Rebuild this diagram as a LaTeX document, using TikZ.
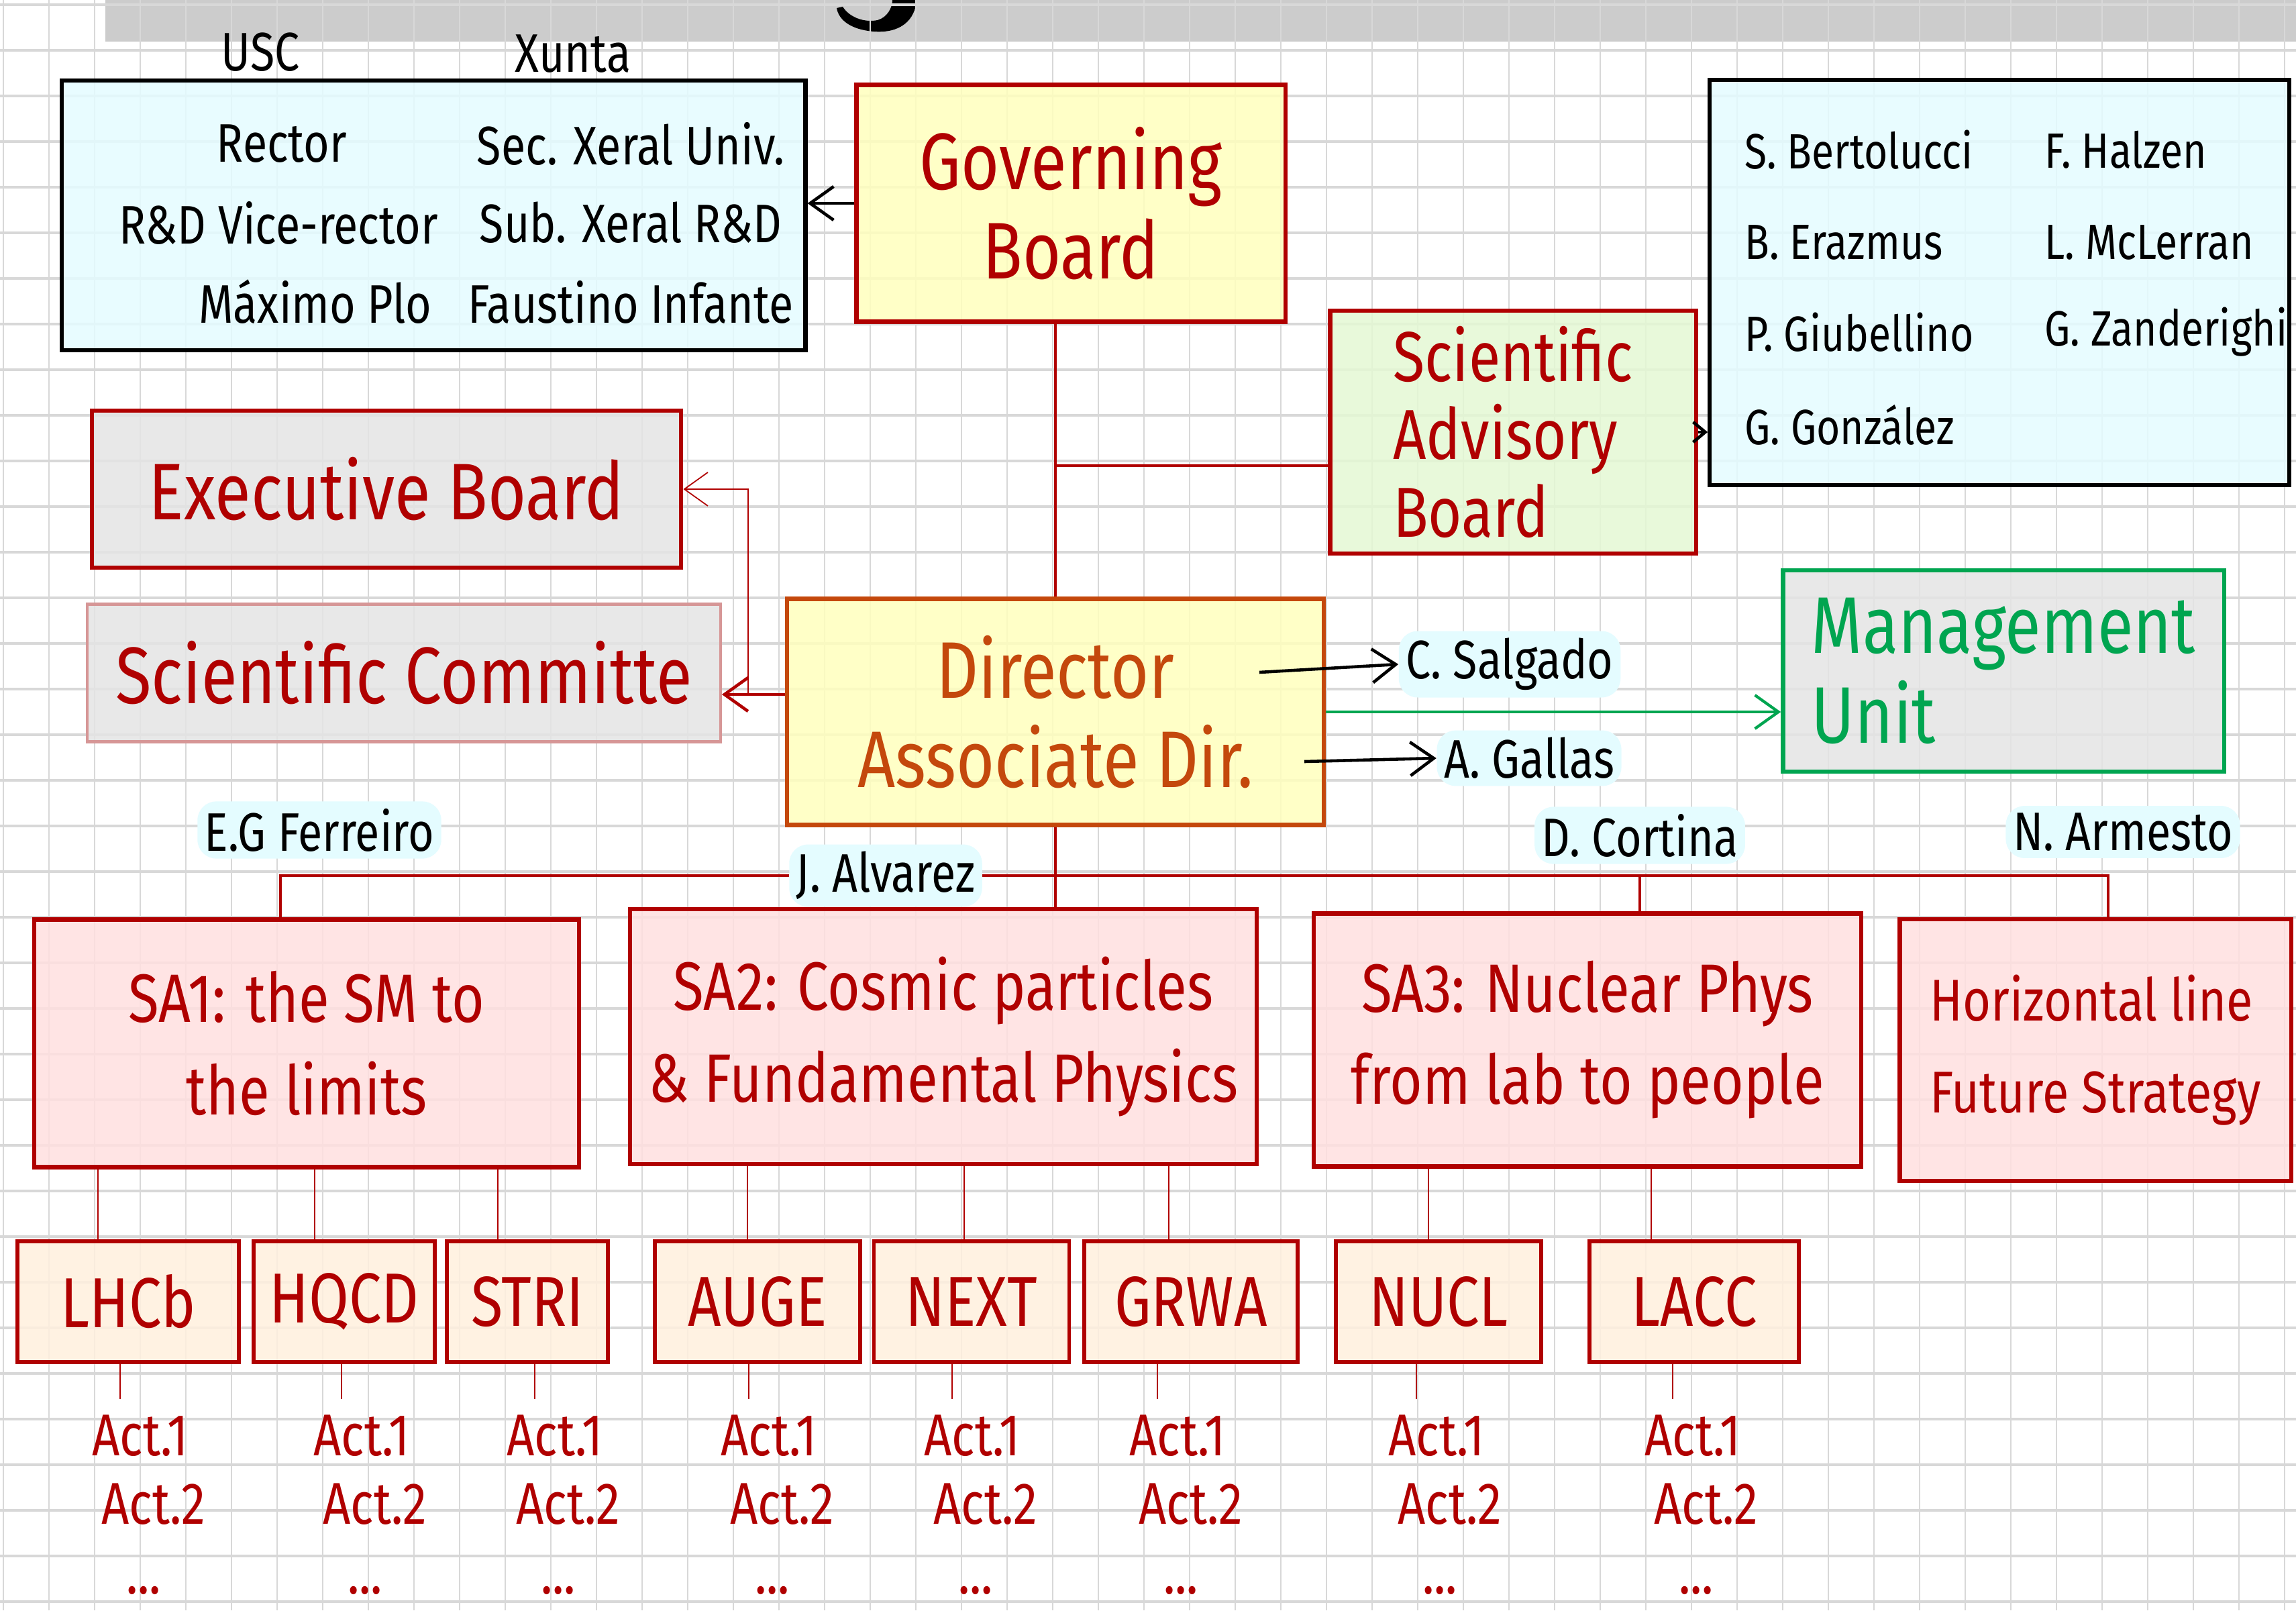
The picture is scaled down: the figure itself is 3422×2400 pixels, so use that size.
\documentclass[tikz,border=0pt]{standalone}
\usepackage{fontspec}
\setmainfont{Fira Sans}[FakeStretch=0.82]
\usetikzlibrary{arrows.meta,positioning}

\definecolor{penred}{RGB}{176,0,0}
\definecolor{penorange}{RGB}{196,72,12}
\definecolor{pengreen}{RGB}{0,165,80}
\definecolor{sclight}{RGB}{214,150,150}
\definecolor{hlcyan}{RGB}{228,252,255}
\definecolor{hlyellow}{RGB}{255,255,190}
\definecolor{hlgreen}{RGB}{228,248,212}
\definecolor{hlgrey}{RGB}{228,228,228}
\definecolor{hlpink}{RGB}{255,224,224}
\definecolor{hlpeach}{RGB}{255,240,222}
\definecolor{gridgrey}{RGB}{216,216,216}
\definecolor{bargrey}{RGB}{204,204,204}

\newcommand{\bigfont}{\fontsize{34}{38}\selectfont}
\newcommand{\sabfont}{\fontsize{30}{33}\selectfont}
\newcommand{\wpfont}{\fontsize{29}{39}\selectfont}
\newcommand{\hlfont}{\fontsize{25}{39}\selectfont}
\newcommand{\namefont}{\fontsize{23}{30}\selectfont}
\newcommand{\smallnamefont}{\fontsize{21}{28}\selectfont}
\newcommand{\grpfont}{\fontsize{30}{34}\selectfont}
\newcommand{\actfont}{\fontsize{25}{30}\selectfont}

\begin{document}
\begin{tikzpicture}[x=0.01cm, y=-0.01cm,
  gridh/.style={gridgrey, line width=1pt},
  gridv/.style={gridgrey, line width=0.5pt},
  redline/.style={penred, line width=1.3pt},
  redarrow/.style={penred, line width=1.3pt, -{Straight Barb[length=3.5mm,width=5mm]}},
  blackarrow/.style={black, line width=1.3pt, -{Straight Barb[length=3.5mm,width=5mm]}},
  greenarrow/.style={pengreen, line width=1.2pt, -{Straight Barb[length=3.5mm,width=5mm]}},
  peoplebox/.style={draw=black, line width=1.8pt, fill=hlcyan, fill opacity=0.85, inner sep=0},
  boardbox/.style={draw=penred, line width=1.8pt, text=penred, font=\bigfont, align=center,
    fill opacity=0.85, text opacity=1, inner sep=0},
  wpbox/.style={draw=penred, line width=1.8pt, text=penred, font=\wpfont, align=center,
    fill=hlpink, fill opacity=0.85, text opacity=1, inner sep=0},
  grpbox/.style={draw=penred, line width=1.6pt, text=penred, font=\grpfont, fill=hlpeach,
    fill opacity=0.85, text opacity=1, minimum height=1.8cm, inner sep=0},
  person/.style={font=\namefont},
  advisor/.style={font=\smallnamefont, anchor=west},
  namehl/.style={font=\namefont, fill=hlcyan, rounded corners=8pt, inner sep=3pt},
  acttext/.style={text=penred, font=\actfont, inner sep=1pt}]
\useasboundingbox (0,0) rectangle (3422,2400);
\clip (0,0) rectangle (3422,2400);
\fill[white] (0,0) rectangle (3422,2400);
\fill[bargrey] (157,0) rectangle (3422,62);
\fill[black] (1330,0) -- (1366,0) .. controls (1364,30) and (1342,50) .. (1302,47)
  .. controls (1268,44) and (1250,30) .. (1247,12) -- (1256,10)
  .. controls (1266,26) and (1288,34) .. (1308,30) .. controls (1322,26) and (1330,12) .. (1330,0) -- cycle;
\foreach \gx in {5,73,...,3422} \draw[gridv] (\gx,0) -- (\gx,2400);
\foreach \gy in {7,75,...,2400} \draw[gridh] (0,\gy) -- (3422,\gy);

\node[peoplebox, minimum width=11.08cm, minimum height=4.02cm] (unibox) at (646,321) {};
\node[person] (usc) at (388,78) {USC};
\node[person] (xunta) at (854,80) {Xunta};
\node[person] (rector) at (420,214) {Rector};
\node[person] (vicerector) at (415,332) {R\&D Vice-rector};
\node[person] (plo) at (470,450) {Máximo Plo};
\node[person] (secxeral) at (940,214) {Sec. Xeral Univ.};
\node[person] (subxeral) at (940,332) {Sub. Xeral R\&D};
\node[person] (infante) at (940,450) {Faustino Infante};

\node[boardbox, fill=hlyellow, minimum width=6.39cm, minimum height=3.53cm] (gb) at (1596,303) {Governing\\Board};
\draw[blackarrow] (gb.west) -- (gb.west -| unibox.east);

\node[peoplebox, minimum width=8.63cm, minimum height=6.03cm] (advbox) at (2980,421) {};
\node[advisor] (bertolucci) at (2588,223) {S. Bertolucci};
\node[advisor] (erazmus) at (2588,361) {B. Erazmus};
\node[advisor] (giubellino) at (2588,495) {P. Giubellino};
\node[advisor] (gonzalez) at (2588,633) {G. González};
\node[advisor] (halzen) at (3035,223) {F. Halzen};
\node[advisor] (mclerran) at (3035,361) {L. McLerran};
\node[advisor] (zanderighi) at (3035,495) {G. Zanderighi};

\node[boardbox, fill=hlgreen, font=\sabfont, align=left, minimum width=5.45cm, minimum height=3.62cm] (sab) at (2255,644) {Scientific\\Advisory\\Board};
\draw[black, line width=1.3pt, -{Straight Barb[length=1.8mm,width=3mm]}] (sab.east) -- (sab.east -| advbox.west);

\node[boardbox, draw=penorange, text=penorange, fill=hlyellow, minimum width=7.99cm, minimum height=3.37cm] (dir) at (1573,1061) {Director\\Associate Dir.};
\draw[redline] (dir.north) -- (dir.north |- gb.south);
\coordinate (sabjoin) at (1573,694);
\draw[redline] (sabjoin) -- (sabjoin -| sab.west);

\node[boardbox, fill=hlgrey, minimum width=8.78cm, minimum height=2.34cm] (eb) at (576,729) {Executive Board};
\node[boardbox, draw=sclight, line width=1.2pt, fill=hlgrey, minimum width=9.43cm, minimum height=2.05cm] (sc) at (602,1003) {Scientific Committe};
\coordinate (dirsplit) at (1115,1035);
\draw[redarrow] (dirsplit -| dir.west) -- (dirsplit -| sc.east);
\draw[redarrow, line width=0.5pt] (dirsplit) |- (eb.east);

\node[namehl] (salgado) at (2250,990) {C. Salgado};
\node[namehl] (gallas) at (2279,1130) {A. Gallas};
\coordinate (salgadofrom) at (1877,1002);
\coordinate (gallasfrom) at (1944,1135);
\draw[blackarrow] (salgadofrom) -- (salgado.west);
\draw[blackarrow] (gallasfrom) -- (gallas.west);

\node[boardbox, draw=pengreen, text=pengreen, fill=hlgrey, align=left, minimum width=6.57cm, minimum height=3.0cm] (mu) at (2986,1000) {Management\\Unit};
\draw[greenarrow] (dir.east) -- (dir.east -| mu.west);

\node[wpbox, minimum width=8.12cm, minimum height=3.69cm] (sa1) at (457,1555) {SA1: the SM to\\the limits};
\node[wpbox, minimum width=9.34cm, minimum height=3.8cm] (sa2) at (1406,1545) {SA2: Cosmic particles\\\& Fundamental Physics};
\node[wpbox, minimum width=8.16cm, minimum height=3.77cm] (sa3) at (2366,1550) {SA3: Nuclear Phys\\from lab to people};
\node[wpbox, font=\hlfont, align=left, minimum width=5.83cm, minimum height=3.9cm] (sa4) at (3123,1565) {Horizontal line\\Future Strategy};

\node[namehl] (ferreiro) at (476,1237) {E.G Ferreiro};
\node[namehl] (alvarez) at (1320,1305) {J. Alvarez};
\node[namehl] (cortina) at (2444,1245) {D. Cortina};
\node[namehl] (armesto) at (3164,1240) {N. Armesto};

\coordinate (bus1) at (418,1305);
\coordinate (bus3) at (2444,1305);
\coordinate (bus4) at (3142,1305);
\draw[redline] (bus1 |- sa1.north) -- (bus1) -- (alvarez.west);
\draw[redline] (alvarez.east) -- (bus4) -- (bus4 |- sa4.north);
\draw[redline] (bus3) -- (bus3 |- sa3.north);
\draw[redline] (dir.south) -- (dir.south |- sa2.north);

\foreach \bname/\bxc/\bwid/\topx/\botx/\bsa in {LHCb/191/3.30/146/179/sa1, HQCD/513/2.70/469/509/sa1,
    STRI/786/2.40/742/797/sa1, AUGE/1129/3.06/1114/1116/sa2, NEXT/1448/2.91/1437/1419/sa2,
    GRWA/1775/3.18/1742/1725/sa2, NUCL/2144/3.06/2129/2111/sa3, LACC/2525/3.12/2461/2493/sa3}{
  \node[grpbox, minimum width=\bwid cm] (\bname) at (\bxc,1940) {\bname};
  \coordinate (top\bname) at (\topx,1800);
  \coordinate (bot\bname) at (\botx,2085);
  \draw[redline, line width=0.8pt] (top\bname |- \bsa.south) -- (top\bname |- \bname.north);
  \draw[redline, line width=0.8pt] (bot\bname |- \bname.south) -- (bot\bname);
  \node[acttext] (actone\bname) at ([shift={(30,55)}]bot\bname) {Act.1};
  \node[acttext] (acttwo\bname) at ([shift={(50,157)}]bot\bname) {Act.2};
  \node[acttext, anchor=base] (actmore\bname) at ([shift={(35,290)}]bot\bname) {...};
}
\end{tikzpicture}
\end{document}
